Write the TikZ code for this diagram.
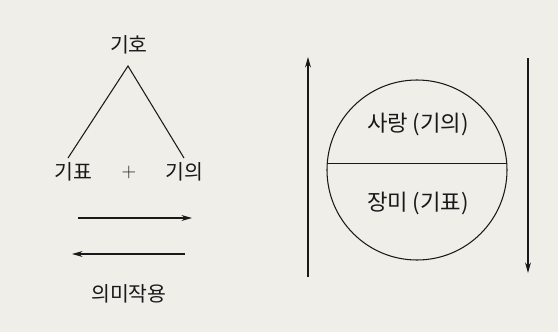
\documentclass[tikz,border=0pt]{standalone}
\usepackage{fontspec}
\usepackage{xcolor}
\usepackage{tikz}
\usetikzlibrary{arrows.meta}
\newfontfamily\kor{Noto Sans CJK KR}
\definecolor{paper}{RGB}{240,238,233}
\definecolor{ink}{RGB}{25,25,25}
\tikzset{
  word/.style={font=\kor\fontsize{17.5}{20}\selectfont, text=ink, inner sep=0pt},
  bigword/.style={word, font=\kor\fontsize{19}{22}\selectfont},
  stroke/.style={draw=ink, line width=0.9pt},
  flow/.style={stroke, -{Stealth[length=9pt, width=5pt]}}
}

\begin{document}
\begin{tikzpicture}[x=0.3mm, y=-0.3mm]
% page
\fill[paper] (0,0) rectangle (558,332);

% Triangle: sign
\node[word] (sign) at (129,45) {기호};
\coordinate (apex) at (128,66);
\coordinate (lfoot) at (68,158);
\coordinate (rfoot) at (184,158);
\draw[stroke] (lfoot) -- (apex) -- (rfoot);
\node[word] (signifier) at (73,172) {기표};
\node[word, font=\fontsize{17.5}{20}\selectfont] (plus) at (129,172) {$+$};
\node[word] (signified) at (184,172) {기의};

% Signification arrows
\coordinate (a1) at (78,218);
\coordinate (b1) at (192,218);
\coordinate (a2) at (185,254);
\coordinate (b2) at (72,254);
\draw[flow] (a1) -- (b1);
\draw[flow] (a2) -- (b2);
\node[word] (signification) at (129,294) {의미작용};

% Circle
\node[stroke, circle, minimum size=54mm, inner sep=0pt] (disc) at (417,170) {};
\draw[stroke] (disc.176) -- (disc.4);
\node[bigword] (love) at (418,124) {사랑 (기의)};
\node[bigword] (rose) at (418,203) {장미 (기표)};

% Side arrows
\coordinate (upfoot) at (308,277);
\coordinate (uptip) at (308,57);
\coordinate (downtop) at (528,58);
\coordinate (downtip) at (528,273);
\draw[flow] (upfoot) -- (uptip);
\draw[flow] (downtop) -- (downtip);
\end{tikzpicture}
\end{document}
